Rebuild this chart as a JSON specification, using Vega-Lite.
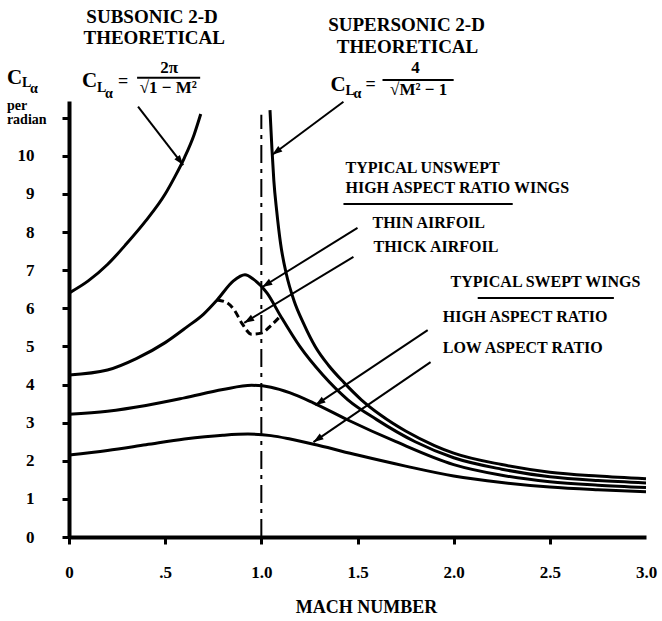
{
  "$schema": "https://vega.github.io/schema/vega-lite/v6.json",
  "width": 577,
  "height": 436,
  "autosize": {"type": "none"},
  "padding": {"left": 69, "top": 101, "right": 16, "bottom": 84},
  "background": "white",
  "config": {"view": {"stroke": null}, "font": "Liberation Serif"},
  "datasets": {
    "curves": [
      {"series": "Subsonic 2-D theoretical", "M": 0, "C": 6.4},
      {"series": "Subsonic 2-D theoretical", "M": 0.1, "C": 6.72},
      {"series": "Subsonic 2-D theoretical", "M": 0.2, "C": 7.15},
      {"series": "Subsonic 2-D theoretical", "M": 0.3, "C": 7.7},
      {"series": "Subsonic 2-D theoretical", "M": 0.4, "C": 8.3},
      {"series": "Subsonic 2-D theoretical", "M": 0.5, "C": 9.0},
      {"series": "Subsonic 2-D theoretical", "M": 0.55, "C": 9.45},
      {"series": "Subsonic 2-D theoretical", "M": 0.6, "C": 9.95},
      {"series": "Subsonic 2-D theoretical", "M": 0.65, "C": 10.55},
      {"series": "Subsonic 2-D theoretical", "M": 0.685, "C": 11.1},
      {"series": "Supersonic 2-D theoretical", "M": 1.045, "C": 11.2},
      {"series": "Supersonic 2-D theoretical", "M": 1.055, "C": 10.2},
      {"series": "Supersonic 2-D theoretical", "M": 1.065, "C": 9.35},
      {"series": "Supersonic 2-D theoretical", "M": 1.08, "C": 8.55},
      {"series": "Supersonic 2-D theoretical", "M": 1.1, "C": 7.7},
      {"series": "Supersonic 2-D theoretical", "M": 1.13, "C": 6.9},
      {"series": "Supersonic 2-D theoretical", "M": 1.17, "C": 6.2},
      {"series": "Supersonic 2-D theoretical", "M": 1.22, "C": 5.6},
      {"series": "Supersonic 2-D theoretical", "M": 1.28, "C": 5.0},
      {"series": "Supersonic 2-D theoretical", "M": 1.35, "C": 4.5},
      {"series": "Supersonic 2-D theoretical", "M": 1.43, "C": 4.05},
      {"series": "Supersonic 2-D theoretical", "M": 1.52, "C": 3.6},
      {"series": "Supersonic 2-D theoretical", "M": 1.62, "C": 3.2},
      {"series": "Supersonic 2-D theoretical", "M": 1.75, "C": 2.78},
      {"series": "Supersonic 2-D theoretical", "M": 1.9, "C": 2.4},
      {"series": "Supersonic 2-D theoretical", "M": 2.0, "C": 2.2},
      {"series": "Supersonic 2-D theoretical", "M": 2.25, "C": 1.9},
      {"series": "Supersonic 2-D theoretical", "M": 2.5, "C": 1.7},
      {"series": "Supersonic 2-D theoretical", "M": 2.75, "C": 1.6},
      {"series": "Supersonic 2-D theoretical", "M": 3.0, "C": 1.53},
      {"series": "Thin airfoil", "M": 0, "C": 4.25},
      {"series": "Thin airfoil", "M": 0.2, "C": 4.38},
      {"series": "Thin airfoil", "M": 0.35, "C": 4.68},
      {"series": "Thin airfoil", "M": 0.5, "C": 5.1},
      {"series": "Thin airfoil", "M": 0.61, "C": 5.5},
      {"series": "Thin airfoil", "M": 0.7, "C": 5.85},
      {"series": "Thin airfoil", "M": 0.77, "C": 6.22},
      {"series": "Thin airfoil", "M": 0.855, "C": 6.72},
      {"series": "Thin airfoil", "M": 0.915, "C": 6.88},
      {"series": "Thin airfoil", "M": 0.96, "C": 6.76},
      {"series": "Thin airfoil", "M": 1.03, "C": 6.4},
      {"series": "Thin airfoil", "M": 1.1, "C": 5.8},
      {"series": "Thin airfoil", "M": 1.2, "C": 5.0},
      {"series": "Thin airfoil", "M": 1.32, "C": 4.25},
      {"series": "Thin airfoil", "M": 1.45, "C": 3.6},
      {"series": "Thin airfoil", "M": 1.6, "C": 3.08},
      {"series": "Thin airfoil", "M": 1.8, "C": 2.5},
      {"series": "Thin airfoil", "M": 2.0, "C": 2.08},
      {"series": "Thin airfoil", "M": 2.25, "C": 1.78},
      {"series": "Thin airfoil", "M": 2.5, "C": 1.58},
      {"series": "Thin airfoil", "M": 2.75, "C": 1.48},
      {"series": "Thin airfoil", "M": 3.0, "C": 1.42},
      {"series": "Thick airfoil", "M": 0.77, "C": 6.22},
      {"series": "Thick airfoil", "M": 0.82, "C": 6.15},
      {"series": "Thick airfoil", "M": 0.86, "C": 5.95},
      {"series": "Thick airfoil", "M": 0.9, "C": 5.6},
      {"series": "Thick airfoil", "M": 0.95, "C": 5.32},
      {"series": "Thick airfoil", "M": 1.0, "C": 5.35},
      {"series": "Thick airfoil", "M": 1.05, "C": 5.55},
      {"series": "Thick airfoil", "M": 1.1, "C": 5.8},
      {"series": "Swept, high aspect ratio", "M": 0, "C": 3.22},
      {"series": "Swept, high aspect ratio", "M": 0.2, "C": 3.3},
      {"series": "Swept, high aspect ratio", "M": 0.4, "C": 3.45},
      {"series": "Swept, high aspect ratio", "M": 0.6, "C": 3.65},
      {"series": "Swept, high aspect ratio", "M": 0.8, "C": 3.87},
      {"series": "Swept, high aspect ratio", "M": 0.95, "C": 3.98},
      {"series": "Swept, high aspect ratio", "M": 1.05, "C": 3.93},
      {"series": "Swept, high aspect ratio", "M": 1.15, "C": 3.78},
      {"series": "Swept, high aspect ratio", "M": 1.27, "C": 3.52},
      {"series": "Swept, high aspect ratio", "M": 1.45, "C": 3.07},
      {"series": "Swept, high aspect ratio", "M": 1.7, "C": 2.5},
      {"series": "Swept, high aspect ratio", "M": 2.0, "C": 1.9},
      {"series": "Swept, high aspect ratio", "M": 2.25, "C": 1.62},
      {"series": "Swept, high aspect ratio", "M": 2.5, "C": 1.45},
      {"series": "Swept, high aspect ratio", "M": 2.75, "C": 1.36},
      {"series": "Swept, high aspect ratio", "M": 3.0, "C": 1.3},
      {"series": "Swept, low aspect ratio", "M": 0, "C": 2.15},
      {"series": "Swept, low aspect ratio", "M": 0.2, "C": 2.27},
      {"series": "Swept, low aspect ratio", "M": 0.4, "C": 2.42},
      {"series": "Swept, low aspect ratio", "M": 0.6, "C": 2.57},
      {"series": "Swept, low aspect ratio", "M": 0.8, "C": 2.67},
      {"series": "Swept, low aspect ratio", "M": 0.93, "C": 2.7},
      {"series": "Swept, low aspect ratio", "M": 1.05, "C": 2.66},
      {"series": "Swept, low aspect ratio", "M": 1.15, "C": 2.57},
      {"series": "Swept, low aspect ratio", "M": 1.3, "C": 2.4},
      {"series": "Swept, low aspect ratio", "M": 1.5, "C": 2.15},
      {"series": "Swept, low aspect ratio", "M": 1.75, "C": 1.86},
      {"series": "Swept, low aspect ratio", "M": 2.0, "C": 1.6},
      {"series": "Swept, low aspect ratio", "M": 2.25, "C": 1.43},
      {"series": "Swept, low aspect ratio", "M": 2.5, "C": 1.31},
      {"series": "Swept, low aspect ratio", "M": 2.75, "C": 1.24},
      {"series": "Swept, low aspect ratio", "M": 3.0, "C": 1.19}
    ],
    "refline": [{"M": 1.0, "C": 0, "C2": 11.08}],
    "segments": [
      {"M": 0.354, "C": 12.05, "M2": 0.682, "C2": 12.05},
      {"M": 1.63, "C": 11.99, "M2": 2.0, "C2": 11.99},
      {"M": 1.427, "C": 8.74, "M2": 2.307, "C2": 8.74},
      {"M": 2.125, "C": 6.27, "M2": 2.833, "C2": 6.27}
    ],
    "arrows": [
      {"M": 0.359, "C": 11.29, "M2": 0.594, "C2": 9.76},
      {"M": 1.427, "C": 11.42, "M2": 1.057, "C2": 10.03},
      {"M": 1.5, "C": 8.11, "M2": 1.005, "C2": 6.56},
      {"M": 1.479, "C": 7.35, "M2": 0.911, "C2": 5.62},
      {"M": 1.865, "C": 5.43, "M2": 1.281, "C2": 3.46},
      {"M": 1.88, "C": 4.59, "M2": 1.271, "C2": 2.49}
    ],
    "texts": [
      {"kind": "title", "M": 0.432, "C": 13.65, "text": "SUBSONIC 2-D"},
      {"kind": "title", "M": 0.443, "C": 13.1, "text": "THEORETICAL"},
      {"kind": "title", "M": 1.755, "C": 13.44, "text": "SUPERSONIC 2-D"},
      {"kind": "title", "M": 1.76, "C": 12.86, "text": "THEORETICAL"},
      {"kind": "label", "M": 1.4375, "C": 9.69, "text": "TYPICAL UNSWEPT"},
      {"kind": "label", "M": 1.4375, "C": 9.16, "text": "HIGH ASPECT RATIO WINGS"},
      {"kind": "label", "M": 1.578, "C": 8.24, "text": "THIN AIRFOIL"},
      {"kind": "label", "M": 1.583, "C": 7.61, "text": "THICK AIRFOIL"},
      {"kind": "label", "M": 1.984, "C": 6.69, "text": "TYPICAL SWEPT WINGS"},
      {"kind": "label", "M": 1.943, "C": 5.77, "text": "HIGH ASPECT RATIO"},
      {"kind": "label", "M": 1.943, "C": 4.96, "text": "LOW ASPECT RATIO"},
      {"kind": "big", "M": 0.068, "C": 11.97, "text": "C"},
      {"kind": "big", "M": 1.359, "C": 11.86, "text": "C"},
      {"kind": "big", "M": -0.323, "C": 12.05, "text": "C"},
      {"kind": "sub", "M": 0.146, "C": 11.78, "text": "L"},
      {"kind": "sub", "M": 1.4375, "C": 11.71, "text": "L"},
      {"kind": "sub", "M": -0.245, "C": 11.92, "text": "L"},
      {"kind": "sub", "M": 0.1875, "C": 11.63, "text": "α"},
      {"kind": "sub", "M": 1.479, "C": 11.63, "text": "α"},
      {"kind": "sub", "M": -0.203, "C": 11.76, "text": "α"},
      {"kind": "eq", "M": 0.255, "C": 11.94, "text": "="},
      {"kind": "eq", "M": 1.542, "C": 11.86, "text": "="},
      {"kind": "frac", "M": 0.521, "C": 12.3, "text": "2π"},
      {"kind": "frac", "M": 0.516, "C": 11.77, "text": "√1 − M²"},
      {"kind": "frac", "M": 1.802, "C": 12.3, "text": "4"},
      {"kind": "frac", "M": 1.818, "C": 11.74, "text": "√M² − 1"},
      {"kind": "small", "M": -0.323, "C": 11.31, "text": "per"},
      {"kind": "small", "M": -0.323, "C": 10.94, "text": "radian"}
    ]
  },
  "encoding": {
    "x": {
      "field": "M", "type": "quantitative",
      "scale": {"domain": [0, 3], "nice": false},
      "axis": {
        "values": [0, 0.5, 1, 1.5, 2, 2.5, 3],
        "labelExpr": "datum.value == 0 ? '0' : datum.value == 0.5 ? '.5' : format(datum.value, '.1f')",
        "title": "MACH NUMBER",
        "grid": false,
        "domainColor": "black", "domainWidth": 4,
        "tickColor": "black", "tickWidth": 3, "tickSize": 7,
        "tickOpacity": {"condition": {"test": "datum.value == 3", "value": 0}, "value": 1},
        "labelFont": "Liberation Serif", "labelFontWeight": "bold", "labelFontSize": 17, "labelColor": "black",
        "labelPadding": 20, "labelFlush": false, "labelOverlap": false,
        "titleFont": "Liberation Serif", "titleFontWeight": "bold", "titleFontSize": 18, "titleColor": "black",
        "titlePadding": 18, "titleX": 297, "titleAlign": "center"
      }
    },
    "y": {
      "field": "C", "type": "quantitative",
      "scale": {"domain": [0, 11.44], "nice": false},
      "axis": {
        "values": [0, 1, 2, 3, 4, 5, 6, 7, 8, 9, 10, 11],
        "labelExpr": "datum.value > 10.5 ? '' : format(datum.value, 'd')",
        "title": null,
        "grid": false,
        "domainColor": "black", "domainWidth": 4,
        "tickColor": "black", "tickWidth": 3, "tickSize": 7,
        "labelFont": "Liberation Serif", "labelFontWeight": "bold", "labelFontSize": 17, "labelColor": "black",
        "labelPadding": 28, "labelOverlap": false, "labelFlush": false
      }
    }
  },
  "layer": [
    {
      "data": {"name": "curves"},
      "transform": [{"filter": "datum.series != 'Thick airfoil'"}],
      "mark": {"type": "line", "color": "black", "strokeWidth": 3, "interpolate": "monotone"},
      "encoding": {"detail": {"field": "series"}}
    },
    {
      "data": {"name": "curves"},
      "transform": [{"filter": "datum.series == 'Thick airfoil'"}],
      "mark": {"type": "line", "color": "black", "strokeWidth": 3, "strokeDash": [7, 4], "interpolate": "monotone"},
      "encoding": {}
    },
    {
      "data": {"name": "refline"},
      "mark": {"type": "rule", "color": "black", "strokeWidth": 2, "strokeDash": [18, 6, 4, 6]},
      "encoding": {"y2": {"field": "C2"}}
    },
    {
      "data": {"name": "segments"},
      "mark": {"type": "rule", "color": "black", "strokeWidth": 2},
      "encoding": {"x2": {"field": "M2"}, "y2": {"field": "C2"}}
    },
    {
      "data": {"name": "arrows"},
      "mark": {"type": "rule", "color": "black", "strokeWidth": 2},
      "encoding": {"x2": {"field": "M2"}, "y2": {"field": "C2"}}
    },
    {
      "data": {"name": "arrows"},
      "transform": [
        {"calculate": "atan2((datum.M2 - datum.M) * 577 / 3, (datum.C2 - datum.C) * 436 / 11.44) * 180 / PI", "as": "ang"},
        {"calculate": "datum.M2", "as": "tipM"},
        {"calculate": "datum.C2", "as": "tipC"}
      ],
      "mark": {"type": "point", "shape": "M0,0L-0.7,2L0.7,2Z", "filled": true, "color": "black", "opacity": 1, "size": 100},
      "encoding": {
        "x": {"field": "tipM", "type": "quantitative"},
        "y": {"field": "tipC", "type": "quantitative"},
        "angle": {"field": "ang", "type": "quantitative", "scale": null}
      }
    },
    {
      "data": {"name": "texts"},
      "transform": [{"filter": "datum.kind == 'title'"}],
      "mark": {"type": "text", "font": "Liberation Serif", "fontWeight": "bold", "fontSize": 19, "align": "center", "baseline": "middle", "color": "black"},
      "encoding": {"text": {"field": "text"}}
    },
    {
      "data": {"name": "texts"},
      "transform": [{"filter": "datum.kind == 'label'"}],
      "mark": {"type": "text", "font": "Liberation Serif", "fontWeight": "bold", "fontSize": 16, "align": "left", "baseline": "middle", "color": "black"},
      "encoding": {"text": {"field": "text"}}
    },
    {
      "data": {"name": "texts"},
      "transform": [{"filter": "datum.kind == 'big'"}],
      "mark": {"type": "text", "font": "Liberation Serif", "fontWeight": "bold", "fontSize": 21, "align": "left", "baseline": "middle", "color": "black"},
      "encoding": {"text": {"field": "text"}}
    },
    {
      "data": {"name": "texts"},
      "transform": [{"filter": "datum.kind == 'sub'"}],
      "mark": {"type": "text", "font": "Liberation Serif", "fontWeight": "bold", "fontSize": 14, "align": "left", "baseline": "middle", "color": "black"},
      "encoding": {"text": {"field": "text"}}
    },
    {
      "data": {"name": "texts"},
      "transform": [{"filter": "datum.kind == 'eq'"}],
      "mark": {"type": "text", "font": "Liberation Serif", "fontWeight": "bold", "fontSize": 18, "align": "left", "baseline": "middle", "color": "black"},
      "encoding": {"text": {"field": "text"}}
    },
    {
      "data": {"name": "texts"},
      "transform": [{"filter": "datum.kind == 'frac'"}],
      "mark": {"type": "text", "font": "Liberation Serif", "fontWeight": "bold", "fontSize": 17, "align": "center", "baseline": "middle", "color": "black"},
      "encoding": {"text": {"field": "text"}}
    },
    {
      "data": {"name": "texts"},
      "transform": [{"filter": "datum.kind == 'small'"}],
      "mark": {"type": "text", "font": "Liberation Serif", "fontWeight": "bold", "fontSize": 14, "align": "left", "baseline": "middle", "color": "black"},
      "encoding": {"text": {"field": "text"}}
    }
  ]
}
